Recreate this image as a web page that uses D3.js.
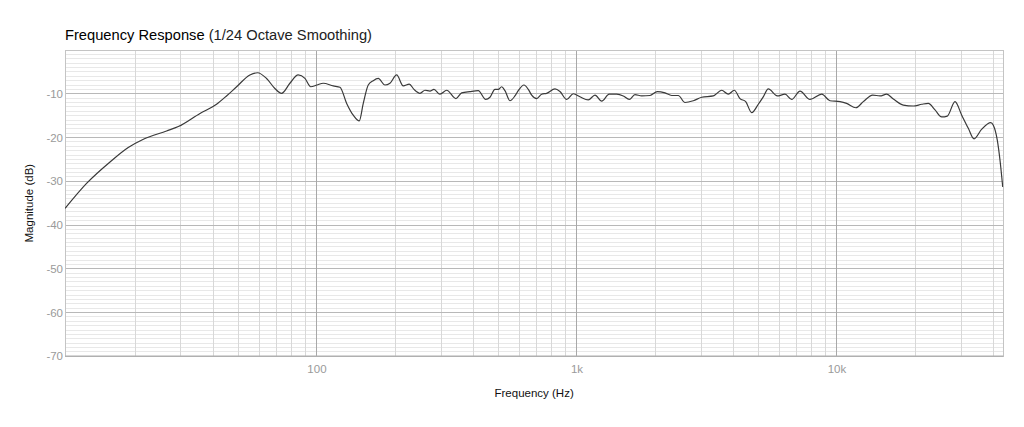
<!DOCTYPE html>
<html>
<head>
<meta charset="utf-8">
<script src="https://cdn.jsdelivr.net/npm/d3@7"></script>
<style>
  body { margin: 0; background: #fff; }
  svg { display: block; font-family: "Liberation Sans", Arial, sans-serif; }
  .tick-label { fill: #9a9a9a; font-size: 11.5px; }
  .axis-title { fill: #111; font-size: 11.5px; }
</style>
</head>
<body>
<script>
var width = 1024;
var height = 427;
var margin = { top: 50, right: 20.7, bottom: 70.7, left: 65 };

// frequency (Hz)
var freqs = [10.75, 13.0, 16.0, 18.8, 21.5, 26.4, 29.3, 35.5, 41.1, 44.9,
  49.1, 55.2, 59.1, 64.0, 68.9, 73.1, 78.7, 84.7, 89.9, 94.6,
  100, 105.7, 115.5, 122.6, 130.1, 137.9, 145.4, 150.7, 157.5, 164.6,
  172.1, 182.6, 190.9, 202.5, 214.7, 226.5, 236.1, 249.0, 260.3, 272.0,
  281.8, 297.2, 315.4, 342.5, 360.2, 387.7, 417.3, 445.5, 462.8, 483.7,
  498.1, 513.3, 528.5, 552.4, 577.4, 594.6, 625.5, 649.7, 669.6, 699.8,
  731.4, 764.5, 822.9, 860.1, 912.9, 967.8, 1027, 1105, 1173, 1245,
  1331, 1421, 1507, 1589, 1671, 1774, 1909, 2036, 2181, 2313,
  2452, 2603, 2802, 3018, 3344, 3602, 3819, 4027, 4236, 4455,
  4698, 4981, 5206, 5442, 5894, 6310, 6695, 7207, 7876, 8735,
  9400, 10270, 10890, 11830, 12620, 13720, 14630, 15530, 16470, 17990,
  19660, 21180, 22450, 23820, 25270, 26560, 28430, 30180, 31990, 33650,
  36020, 39010, 39920, 41350, 42360, 43390];

// magnitude (dB)
var magnitudes = [-36.2, -30.5, -25.6, -22.3, -20.4, -18.5, -17.5, -14.5, -12.4, -10.5,
  -8.4, -5.7, -5.2, -6.5, -8.8, -9.9, -7.6, -5.7, -6.5, -8.4,
  -8.0, -7.6, -8.2, -8.5, -12.2, -14.9, -16.2, -12.2, -8.0, -7.0,
  -6.5, -8.0, -7.6, -5.7, -8.2, -7.8, -9.0, -9.9, -9.2, -9.4,
  -9.0, -10.1, -9.2, -11.1, -9.8, -9.5, -9.3, -11.3, -10.8, -9.0,
  -9.0, -8.4, -9.3, -11.6, -10.5, -9.3, -8.0, -9.0, -10.3, -11.1,
  -10.1, -9.9, -8.9, -9.5, -11.3, -10.0, -10.7, -11.4, -10.3, -11.7,
  -10.1, -10.1, -10.5, -11.3, -10.2, -10.5, -10.4, -9.5, -9.8, -10.4,
  -10.4, -12.0, -11.6, -10.8, -10.5, -9.2, -10.1, -9.2, -11.1, -11.8,
  -14.3, -12.4, -10.7, -8.9, -10.5, -10.1, -11.3, -9.4, -11.3, -10.1,
  -11.6, -11.8, -12.2, -13.2, -11.8, -10.3, -10.5, -10.1, -11.2, -12.6,
  -12.8, -12.4, -12.2, -13.7, -15.3, -15.1, -11.8, -14.9, -17.9, -20.3,
  -18.1, -16.6, -17.2, -20.6, -25.2, -31.3];

var freqDomain = [10.74, 43610];
var dbDomain = [-70, 0];
var yTicks = [-10, -20, -30, -40, -50, -60, -70];
var xTicks = [100, 1000, 10000];
var xTickLabels = ['100', '1k', '10k'];

var titleBold = 'Frequency Response';
var titleRest = ' (1/24 Octave Smoothing)';
var xTitle = 'Frequency (Hz)';
var yTitle = 'Magnitude (dB)';

var x0 = margin.left, x1 = width - margin.right;
var y0 = margin.top, y1 = height - margin.bottom;

var xScale = d3.scaleLog().domain(freqDomain).range([x0, x1]);
var yScale = d3.scaleLinear().domain(dbDomain).range([y1, y0]);

var svg = d3.select('body').append('svg')
  .attr('width', width)
  .attr('height', height);

// minor horizontal grid every 1 dB
var minorDb = d3.range(-69, 0).filter(d => d % 10 !== 0);
svg.append('g').selectAll('line')
  .data(minorDb)
  .join('line')
  .attr('x1', x0).attr('x2', x1)
  .attr('y1', d => yScale(d)).attr('y2', d => yScale(d))
  .attr('stroke', '#e8e8e8').attr('stroke-width', 1)
  .attr('shape-rendering', 'crispEdges');

// minor vertical grid (2..9 per decade)
var minorF = [];
[10, 100, 1000, 10000].forEach(function(dec) {
  for (var k = 2; k <= 9; k++) {
    var f = dec * k;
    if (f > freqDomain[0] && f < freqDomain[1]) minorF.push(f);
  }
});
svg.append('g').selectAll('line')
  .data(minorF)
  .join('line')
  .attr('x1', d => xScale(d)).attr('x2', d => xScale(d))
  .attr('y1', y0).attr('y2', y1)
  .attr('stroke', '#d8d8d8').attr('stroke-width', 1)
  .attr('shape-rendering', 'crispEdges');

// major grid
svg.append('g').selectAll('line')
  .data(yTicks.filter(d => d !== -70))
  .join('line')
  .attr('x1', x0).attr('x2', x1)
  .attr('y1', d => yScale(d)).attr('y2', d => yScale(d))
  .attr('stroke', '#b8b8b8').attr('stroke-width', 1)
  .attr('shape-rendering', 'crispEdges');

svg.append('g').selectAll('line')
  .data(xTicks)
  .join('line')
  .attr('x1', d => xScale(d)).attr('x2', d => xScale(d))
  .attr('y1', y0).attr('y2', y1)
  .attr('stroke', '#a8a8a8').attr('stroke-width', 1)
  .attr('shape-rendering', 'crispEdges');

// frame
svg.append('rect')
  .attr('x', x0).attr('y', y0)
  .attr('width', x1 - x0).attr('height', y1 - y0)
  .attr('fill', 'none')
  .attr('stroke', '#c4c4c4')
  .attr('shape-rendering', 'crispEdges');
svg.append('line')
  .attr('x1', x0).attr('x2', x1)
  .attr('y1', y1).attr('y2', y1)
  .attr('stroke', '#b0b0b0').attr('stroke-width', 1.5);

// curve
var data = freqs.map((f, i) => ({ f: f, db: magnitudes[i] }));
var line = d3.line()
  .x(d => xScale(d.f))
  .y(d => yScale(d.db))
  .curve(d3.curveMonotoneX);

svg.append('clipPath').attr('id', 'plot-clip')
  .append('rect')
  .attr('x', x0).attr('y', y0)
  .attr('width', x1 - x0).attr('height', y1 - y0);

svg.append('path')
  .datum(data)
  .attr('d', line)
  .attr('fill', 'none')
  .attr('stroke', '#3a3a3a')
  .attr('stroke-width', 1.2)
  .attr('stroke-linejoin', 'round')
  .attr('clip-path', 'url(#plot-clip)');

// tick labels
svg.append('g').selectAll('text')
  .data(yTicks)
  .join('text')
  .attr('class', 'tick-label')
  .attr('x', x0 - 2)
  .attr('y', d => yScale(d) + 4)
  .attr('text-anchor', 'end')
  .text(d => d);

svg.append('g').selectAll('text')
  .data(xTicks)
  .join('text')
  .attr('class', 'tick-label')
  .attr('x', d => xScale(d))
  .attr('y', y1 + 17)
  .attr('text-anchor', 'middle')
  .text((d, i) => xTickLabels[i]);

// axis titles
svg.append('text')
  .attr('class', 'axis-title')
  .attr('x', (x0 + x1) / 2)
  .attr('y', y1 + 41)
  .attr('text-anchor', 'middle')
  .text(xTitle);

svg.append('text')
  .attr('class', 'axis-title')
  .attr('transform', `translate(33, ${(y0 + y1) / 2}) rotate(-90)`)
  .attr('text-anchor', 'middle')
  .text(yTitle);

// title
var title = svg.append('text')
  .attr('x', x0)
  .attr('y', 40)
  .attr('font-size', '14.7px')
  .attr('fill', '#111');
title.append('tspan').attr('fill', '#000').text(titleBold);
title.append('tspan').attr('fill', '#222').text(titleRest);
</script>
</body>
</html>
